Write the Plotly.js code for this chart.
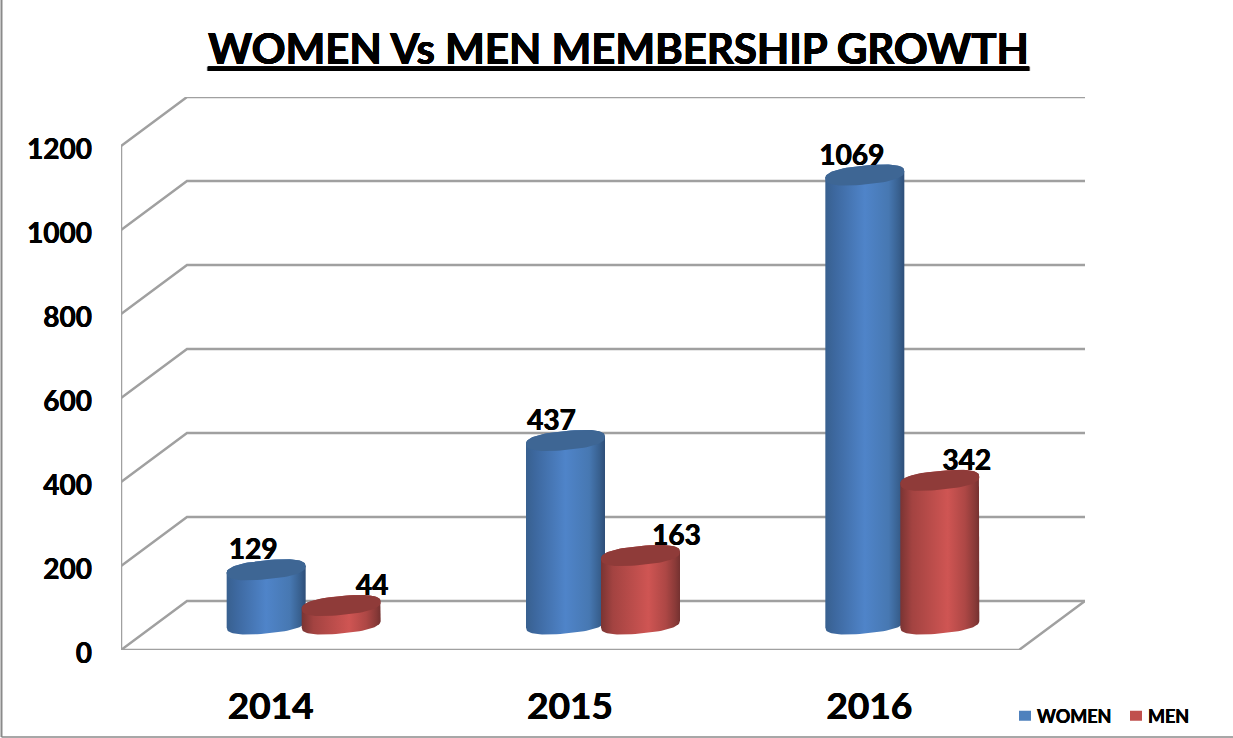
<!DOCTYPE html>
<html>
<head>
<meta charset="utf-8">
<script src="https://cdn.plot.ly/plotly-3.0.1.min.js"></script>
<style>html,body{margin:0;padding:0;background:#fff}#chart{width:1233px;height:738px}</style>
</head>
<body>
<div id="chart"></div>
<script>
const years = ['2014', '2015', '2016'];
const women = [129, 437, 1069];
const men = [44, 163, 342];
const gridValues = [0, 200, 400, 600, 800, 1000, 1200];

const FONT = 'Lato, Carlito, Calibri, sans-serif';
const HEAVY = '0.35px 0 0 #000, -0.35px 0 0 #000';
const W = 1233, H = 738;
const plot = {l: 121, r: 1085, t: 97, b: 650};
const pxPerCat = 299.33, pxPerVal = 0.42;
const depthX = 66 / pxPerCat, depthY = 49 / pxPerVal;   // oblique offset of the back wall
const xMin = -0.5, xMax = xMin + (plot.r - plot.l) / pxPerCat;
const yMax = (plot.b - plot.t) / pxPerVal;
const lastCat = years.length - 0.5;
const topV = gridValues[gridValues.length - 1];

const floorLift = 26 / pxPerVal;           // cylinder base centre above the axis
const centreShift = 33 / pxPerCat;         // cylinders stand mid-way in the depth
const pairOffset = 37.5 / pxPerCat;
const radiusX = 39.5 / pxPerCat;
const ellipseV = 9.5 / pxPerVal, tiltV = 3.6 / pxPerVal;
const labelLift = 17.5 / pxPerVal;
const roundness = 0.8;                     // slightly squared ends, as in the picture

function spow(a) { return Math.sign(a) * Math.pow(Math.abs(a), roundness); }
function ellipseAt(cx, cy, t) {
  const c = spow(Math.cos(t)), s = spow(Math.sin(t));
  return [cx + radiusX * c, cy + tiltV * c + ellipseV * s];
}
function arc(cx, cy, from, to, n) {
  const xs = [], ys = [];
  for (let i = 0; i <= n; i++) {
    const p = ellipseAt(cx, cy, from + (to - from) * i / n);
    xs.push(p[0]); ys.push(p[1]);
  }
  return [xs, ys];
}

const blueScale = [[0,'#38608f'],[0.12,'#3d689f'],[0.5,'#4f84c9'],[0.8,'#4778b2'],[0.93,'#38608f'],[1,'#2e4e78']];
const redScale  = [[0,'#7a3433'],[0.15,'#a34341'],[0.6,'#cf5553'],[0.82,'#ad4745'],[0.94,'#8a3a38'],[1,'#743130']];
const series = [
  {name: 'WOMEN', values: women, sign: -1, swatch: '#4f81bd', cap: '#3e6694', scale: blueScale, labelShift: [-13, -14, -13]},
  {name: 'MEN',   values: men,   sign:  1, swatch: '#c0504d', cap: '#8f3b39', scale: redScale,  labelShift: [31, 36, 27]}
];

const traces = [];

// walls and floor
const gx = [], gy = [];
gridValues.forEach(v => {
  gx.push(xMin, xMin + depthX, xMax, null);
  gy.push(v, v + depthY, v + depthY, null);
});
gx.push(xMin, xMin, null, xMin, lastCat, xMax);
gy.push(0, topV, null, 0, 0, depthY);
traces.push({type: 'scatter', mode: 'lines', x: gx, y: gy, showlegend: false, hoverinfo: 'skip',
  line: {color: '#a0a0a0', width: 2.5}, cliponaxis: false});

// plain bars carry the values; the shaded cylinders sit on top
series.forEach(s => {
  traces.push({type: 'bar', name: s.name, showlegend: false, x: years.map((_, i) => i + centreShift + s.sign * pairOffset),
    y: s.values, base: s.values.map(() => floorLift), width: 0.2,
    marker: {color: s.swatch, line: {width: 0}}, hoverinfo: 'skip'});
});

years.forEach((_, i) => {
  series.forEach(s => {
    const v = s.values[i];
    const cx = i + centreShift + s.sign * pairOffset;
    const low = arc(cx, floorLift, Math.PI, 2 * Math.PI, 40);
    const high = arc(cx, floorLift + v, 0, Math.PI, 40);
    traces.push({type: 'scatter', mode: 'lines', showlegend: false, hoverinfo: 'skip',
      x: low[0].concat(high[0]), y: low[1].concat(high[1]), fill: 'toself',
      fillgradient: {type: 'horizontal', colorscale: s.scale},
      line: {width: 0, color: 'rgba(0,0,0,0)'}});
    const cap = arc(cx, floorLift + v, 0, 2 * Math.PI, 80);
    traces.push({type: 'scatter', mode: 'lines', showlegend: false, hoverinfo: 'skip',
      x: cap[0], y: cap[1], fill: 'toself', fillcolor: s.cap,
      line: {width: 0, color: 'rgba(0,0,0,0)'}});
  });
});

// value labels
series.forEach(s => {
  traces.push({type: 'scatter', mode: 'text', showlegend: false, hoverinfo: 'skip', cliponaxis: false,
    x: s.values.map((_, i) => i + centreShift + s.sign * pairOffset + s.labelShift[i] / pxPerCat),
    y: s.values.map(v => floorLift + v + labelLift),
    text: s.values.map(String), textposition: 'middle center',
    textfont: {family: FONT, size: 28, color: '#000', weight: 700, shadow: HEAVY}});
});

// legend keys: a thick dashed stroke gives the small square right next to the text
series.forEach(s => {
  traces.push({type: 'scatter', mode: 'lines', name: '<b>' + s.name + '</b>', x: [null], y: [null],
    line: {color: s.swatch, width: 12, dash: '0px,17px,12px,100px'}, hoverinfo: 'skip'});
});

const layout = {
  width: W, height: H,
  margin: {l: plot.l, r: W - plot.r, t: plot.t, b: H - plot.b, pad: 0, autoexpand: false},
  paper_bgcolor: '#fff', plot_bgcolor: '#fff',
  barmode: 'overlay',
  title: {text: 'WOMEN Vs MEN MEMBERSHIP GROWTH', x: 618.5 / W, xanchor: 'center',
    y: 1 - 49 / H, yanchor: 'middle',
    font: {family: FONT, size: 42, color: '#000', weight: 700, lineposition: 'under', shadow: HEAVY}},
  xaxis: {range: [xMin, xMax], tickmode: 'array', tickvals: years.map((_, i) => i), ticktext: years,
    showgrid: false, zeroline: false, showline: false, ticks: '', ticklabelstandoff: 31,
    tickfont: {family: FONT, size: 37, color: '#000', weight: 700, shadow: HEAVY}},
  yaxis: {range: [0, yMax], tickmode: 'array', tickvals: gridValues, ticktext: gridValues.map(String),
    showgrid: false, zeroline: false, showline: false, ticks: '', ticklabelstandoff: 28, ticklabelshift: 3,
    tickfont: {family: FONT, size: 28, color: '#000', weight: 700, shadow: HEAVY}},
  legend: {orientation: 'h', x: (997 - plot.l) / (plot.r - plot.l), xanchor: 'left',
    y: (plot.b - 716) / (plot.b - plot.t), yanchor: 'middle',
    entrywidth: 66, entrywidthmode: 'pixels', bgcolor: 'rgba(0,0,0,0)',
    font: {family: FONT, size: 18, color: '#000', weight: 700, shadow: '0.25px 0 0 #000, -0.25px 0 0 #000'}},
  shapes: [
    {type: 'line', xref: 'paper', yref: 'paper',
      x0: (1.5 - plot.l) / (plot.r - plot.l), x1: (1.5 - plot.l) / (plot.r - plot.l),
      y0: (plot.b - 737) / (plot.b - plot.t), y1: plot.b / (plot.b - plot.t),
      line: {color: '#8a8a8a', width: 2}},
    {type: 'line', xref: 'paper', yref: 'paper',
      x0: (1.5 - plot.l) / (plot.r - plot.l), x1: (W - plot.l) / (plot.r - plot.l),
      y0: (plot.b - 737) / (plot.b - plot.t), y1: (plot.b - 737) / (plot.b - plot.t),
      line: {color: '#8a8a8a', width: 1.5}}
  ]
};

Plotly.newPlot('chart', traces, layout, {displayModeBar: false, staticPlot: true});
</script>
</body>
</html>
